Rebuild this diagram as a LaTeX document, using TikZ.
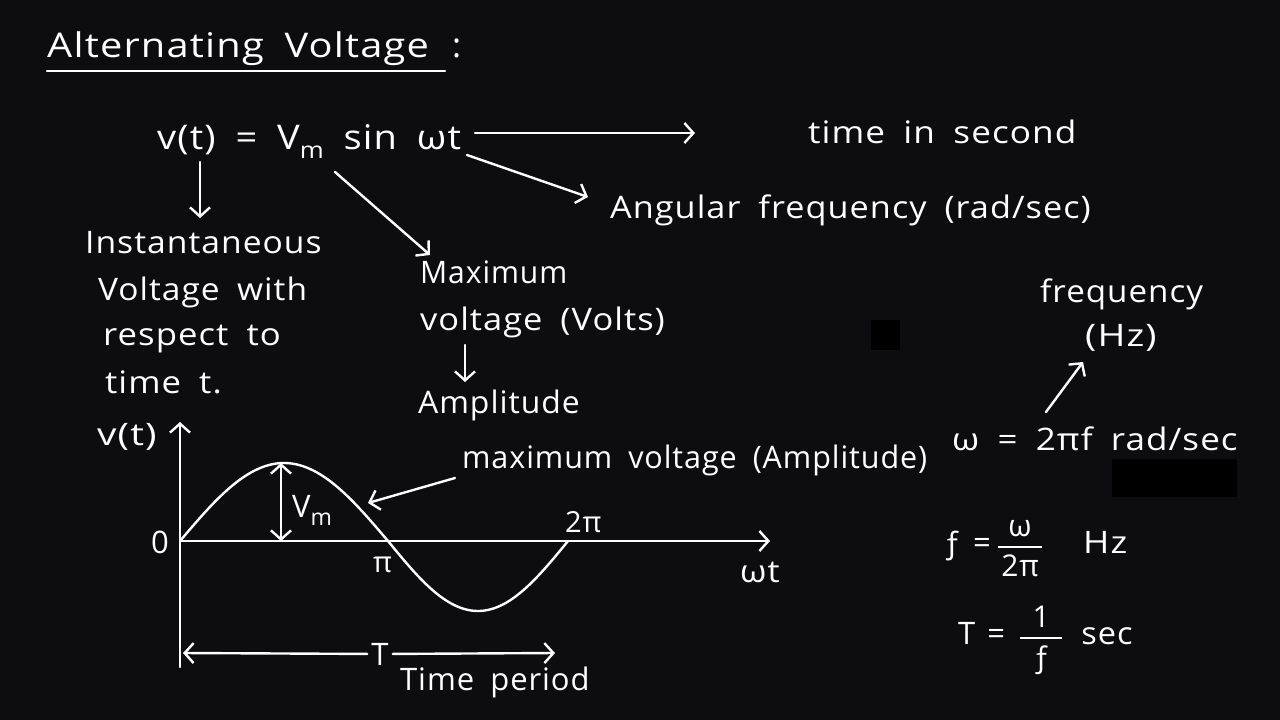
\documentclass[tikz,border=0pt]{standalone}
\usepackage{amsmath}
\usepackage{graphicx}
\usepackage{fontspec}
\setmainfont{Open Sans}[LetterSpace=3,WordSpace=1.8]
\usetikzlibrary{arrows.meta}
\definecolor{bg}{HTML}{0D0D10}
\newcommand{\subm}{\raisebox{-0.28em}{\fontsize{23}{23}\selectfont m}}
\newcommand{\hs}[2]{\scalebox{#1}[1]{#2}}
\newcommand{\myfr}[3]{$\genfrac{}{}{2.4pt}{0}{\hbox to #1{\hss\fontsize{30}{30}\selectfont #2\hss}}{\hbox to #1{\hss\fontsize{30}{30}\selectfont #3\hss}}$}
\begin{document}
\begin{tikzpicture}[x=1pt,y=-1pt,
  every node/.style={text=white,inner sep=0pt,font=\fontsize{31}{37}\selectfont},
  lbl/.style={anchor=base west},
  big/.style={font=\fontsize{34}{40}\selectfont},
  line/.style={draw=white,line width=2.4pt,line cap=round},
  conn/.style={line,-{Straight Barb[length=9pt,width=20pt,line width=2.4pt]}},
  dconn/.style={line,{Straight Barb[length=9pt,width=20pt,line width=2.4pt]}-{Straight Barb[length=9pt,width=20pt,line width=2.4pt]}},
  patch/.style={fill=black}]
\fill[bg] (0,0) rectangle (1280,720);
\useasboundingbox (0,0) rectangle (1280,720);
% dark patches
\fill[patch] (871,320) rectangle (900,350);
\fill[patch] (1112,459) rectangle (1237,497);

% title
\node[lbl,big] (title) at (47,57) {\hs{1.17}{Alternating Voltage}};
\node[lbl,big] (colon) at (452,57) {:};
\coordinate (ul1) at (47,71);
\coordinate (ul2) at (445,71);
\draw[line] (ul1) -- (ul2);

% equation
\node[lbl,big] (eq) at (157,149) {\hs{1.12}{v(t) = V\subm{} sin ωt}};
\coordinate (eqv) at (200,162);
\coordinate (eqm) at (335,172);
\coordinate (eqw) at (467,155);
\coordinate (eqr) at (475,133);

\node[lbl] (time) at (808,143) {\hs{1.135}{time in second}};
\coordinate (timearr) at (695,133);
\draw[conn] (eqr) -- (timearr);

\node[lbl] (ang) at (610,218) {\hs{1.105}{Angular frequency (rad/sec)}};
\coordinate (angarr) at (588,197);
\draw[conn] (eqw) -- (angarr);

\node[lbl] (inst1) at (85,253) {\hs{1.085}{Instantaneous}};
\node[lbl] (inst2) at (98,300) {\hs{1.08}{Voltage with}};
\node[lbl] (inst3) at (103,345) {\hs{1.12}{respect to}};
\node[lbl] (inst4) at (105,393) {\hs{1.12}{time t.}};
\coordinate (instarr) at (200,218);
\draw[conn] (eqv) -- (instarr);

\node[lbl] (max1) at (420,283) {\hs{0.97}{Maximum}};
\node[lbl] (max2) at (420,330) {\hs{1.11}{voltage (Volts)}};
\node[lbl] (amp) at (418,413) {\hs{1.03}{Amplitude}};
\coordinate (maxarr) at (430,255);
\draw[conn] (eqm) -- (maxarr);
\coordinate (vlt) at (465,345);
\coordinate (ampt) at (465,382);
\draw[conn] (vlt) -- (ampt);

% graph
\coordinate (O) at (180,541);
\coordinate (ytop) at (180,422);
\coordinate (ybot) at (180,667);
\coordinate (xend) at (770,541);
\draw[conn] (ybot) -- (ytop);
\draw[conn] (O) -- (xend);
\node[lbl] (vt) at (97,445) {\hs{1.25}{v(t)}};
\node[lbl] (zero) at (151,553) {0};
\node[lbl] (wt) at (740,582) {\hs{1.1}{ωt}};
\node[lbl,font=\fontsize{29}{30}\selectfont] (pi) at (373,572) {π};
\node[lbl,font=\fontsize{29}{30}\selectfont] (twopi) at (565,532) {2π};
\draw[line] plot[domain=0:180,samples=60,variable=\t] ({180+1.15556*\t},{541-78*sin(\t)});
\draw[line] plot[domain=0:180,samples=60,variable=\t] ({388+\t},{541+70*sin(\t)});
\coordinate (pk) at (281,463);
\coordinate (pkb) at (281,541);
\draw[dconn] (pkb) -- (pk);
\node[lbl] (vm) at (292,517) {V\subm};

\node[lbl] (maxv) at (462,468) {\hs{0.985}{maximum voltage (Amplitude)}};
\coordinate (mva) at (455,478);
\coordinate (mvb) at (368,503);
\draw[conn] (mva) -- (mvb);

\node[font=\fontsize{31}{37}\selectfont,anchor=base] (T) at (380,665) {T};
\coordinate (tl) at (183,653);
\coordinate (tr) at (555,653);
\draw[conn] (T.west) ++(-4,0) coordinate (tla) -- (tl);
\draw[conn] (T.east) ++(4,0) coordinate (tra) -- (tr);
\node[lbl] (tp) at (400,690) {Time period};

% right side
\node[lbl] (freq) at (1040,302) {\hs{1.07}{frequency}};
\node[lbl] (hz) at (1085,346) {\hs{1.22}{(Hz)}};
\coordinate (fa) at (1046,412);
\coordinate (fb) at (1083,362);
\draw[conn] (fa) -- (fb);
\node[lbl] (omega) at (952,450) {\hs{1.13}{ω = 2πf rad/sec}};
\node[lbl] (feq) at (943,553) {ƒ\hspace{12pt}=\hspace{6pt}\myfr{44pt}{ω}{2π}\hspace{40pt}\hs{1.15}{Hz}};
\node[lbl] (teq) at (958,644) {T\hspace{12pt}=\hspace{14pt}\myfr{42pt}{1}{ƒ}\hspace{18pt}\hs{1.05}{sec}};
\end{tikzpicture}
\end{document}
